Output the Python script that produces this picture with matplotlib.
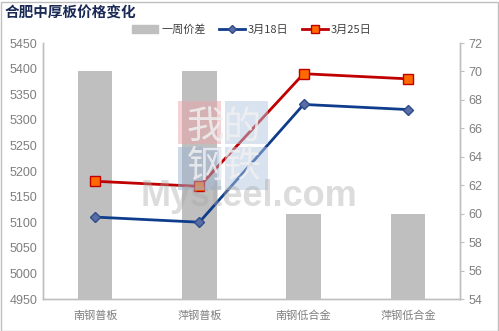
import matplotlib
matplotlib.use("Agg")
import matplotlib.pyplot as plt
from matplotlib.patches import Rectangle
from matplotlib.lines import Line2D
import numpy as np

plt.rcParams['font.family'] = ['Noto Sans CJK SC', 'DejaVu Sans']

categories = ["南钢普板", "萍钢普板", "南钢低合金", "萍钢低合金"]
weekly_diff = [70, 70, 60, 60]
price_0318 = [5110, 5100, 5330, 5320]
price_0325 = [5180, 5170, 5390, 5380]
left_ticks = list(range(4950, 5451, 50))
right_ticks = list(range(54, 73, 2))

W, H = 499, 331
fig = plt.figure(figsize=(W/100, H/100), dpi=100)
fig.patch.set_facecolor('white')

# outer border
fig.add_artist(Rectangle((0.5/W, 0.5/H), (W-2)/W, (H-2)/H, transform=fig.transFigure,
                         fill=False, edgecolor='#BFBFBF', linewidth=1.0))

L, R, T, B = 43, 460, 43, 299
ax = fig.add_axes([L/W, (H-B)/H, (R-L)/W, (B-T)/H])
ax2 = ax.twinx()

x = np.arange(len(categories))
grey = '#BFBFBF'
ax2.bar(x, weekly_diff, width=0.33, color=grey, zorder=1)
ax2.set_ylim(54, 72)
ax2.set_yticks(right_ticks)

# watermark
wm_boxes = [(178, 101, '#EBA5AA'), (225, 101, '#B4C8E2'),
            (178, 147, '#9FB5D3'), (225, 147, '#B4C8E2')]
for bx, by, col in wm_boxes:
    fig.add_artist(Rectangle((bx/W, 1-(by+43)/H), 43/W, 43/H, transform=fig.transFigure,
                             facecolor=col, edgecolor='none', alpha=0.5, zorder=2))
fig.text(224/W, 1-147/H, "我的\n钢铁", fontsize=27, color='#F0F0F0', alpha=0.85,
         ha='center', va='center', multialignment='center', linespacing=1.0, zorder=2)
fig.text(249/W, 1-197/H, "Mysteel.com", fontsize=26, fontweight='bold',
         family='Liberation Sans', color='#A8A8A8', alpha=0.4, ha='center', va='center', zorder=2)

blue = '#0F3D8C'
red = '#C00000'
ax.plot(x, price_0318, color=blue, linewidth=2, marker='D', markersize=5,
        markerfacecolor='#5A6EA6', markeredgecolor='#2E4B8C', zorder=5)
ax.plot(x, price_0325, color=red, linewidth=2, marker='s', markersize=7,
        markerfacecolor='#FF6A00', markeredgecolor=red, zorder=5)
ax.set_ylim(4950, 5450)
ax.set_yticks(left_ticks)
ax.set_xlim(-0.5, 3.5)
ax.set_xticks(x)
ax.set_xticklabels(categories)

ax.set_zorder(ax2.get_zorder() + 1)
ax.patch.set_visible(False)

tick_col = '#7F7F7F'
for a in (ax, ax2):
    for s in a.spines.values():
        s.set_color('#BFBFBF')
        s.set_linewidth(1)
    a.spines['top'].set_visible(False)
ax.tick_params(axis='y', length=0, labelsize=8, labelcolor=tick_col, pad=4)
ax.tick_params(axis='x', length=0, labelsize=8, labelcolor=tick_col, pad=8)
ax2.tick_params(axis='y', length=3, color='#BFBFBF', labelsize=8, labelcolor=tick_col, pad=3)
for lab in ax.get_yticklabels() + ax2.get_yticklabels():
    lab.set_family('Liberation Sans')
    lab.set_fontsize(9)

fig.text(5/W, 1-13/H, "合肥中厚板价格变化", fontsize=10.5, fontweight='bold',
         color='#1A2A55', ha='left', va='center')

handles = [Rectangle((0, 0), 1, 1, color=grey),
           Line2D([], [], color=blue, linewidth=2, marker='D', markersize=4,
                  markerfacecolor='#5A6EA6', markeredgecolor='#2E4B8C'),
           Line2D([], [], color=red, linewidth=2, marker='s', markersize=6,
                  markerfacecolor='#FF6A00', markeredgecolor=red)]
fig.legend(handles, ["一周价差", "3月18日", "3月25日"], loc='center',
           bbox_to_anchor=(252/W, 1-30/H), ncol=3, frameon=False, fontsize=8,
           handlelength=2.3, handletextpad=0.3, columnspacing=1.2,
           labelcolor='#404040')

fig.savefig('out.png', dpi=100, facecolor='white')
